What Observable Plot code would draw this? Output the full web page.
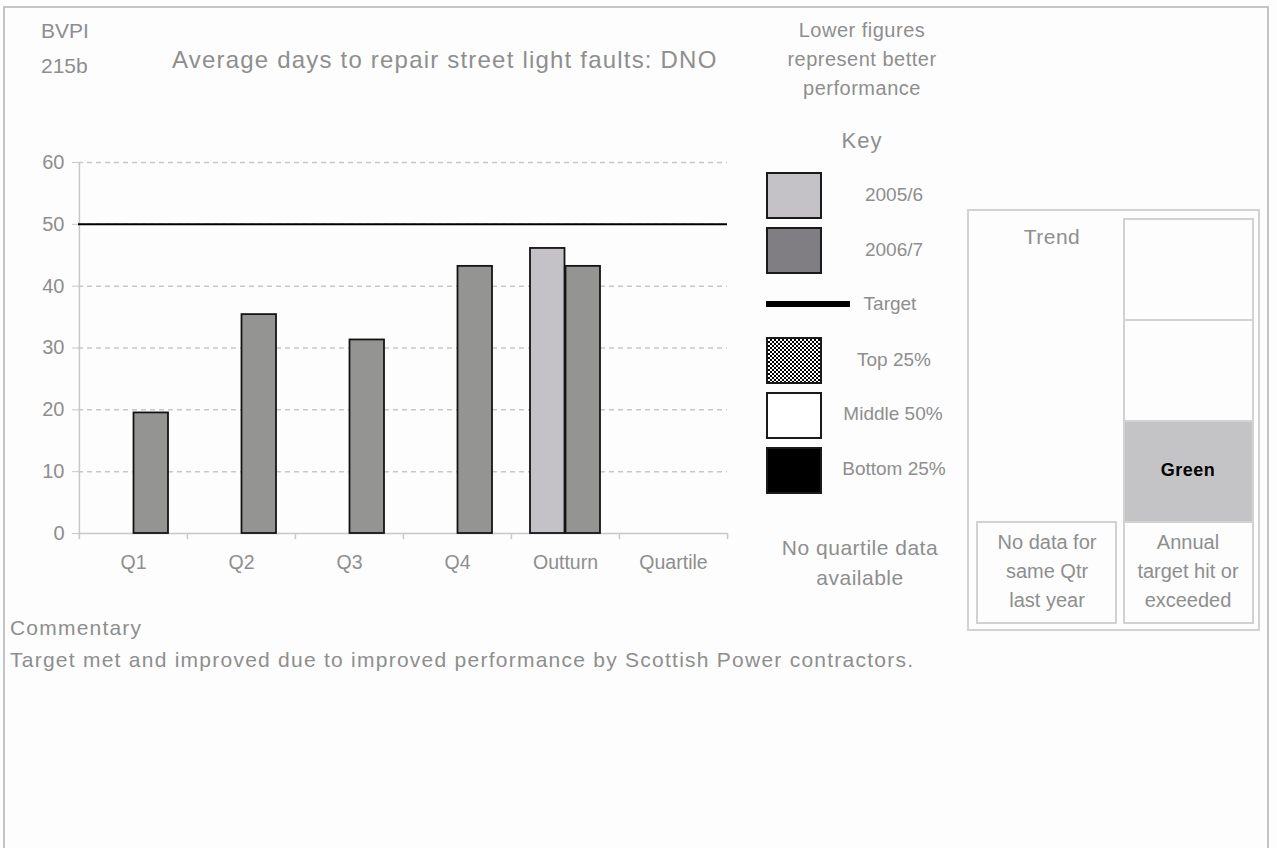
<!DOCTYPE html>
<html>
<head>
<meta charset="utf-8">
<script src="https://cdn.jsdelivr.net/npm/d3@7"></script>
<script src="https://cdn.jsdelivr.net/npm/@observablehq/plot@0.6"></script>
<style>
  html, body { margin: 0; padding: 0; background: #ffffff; }
  #page { position: relative; width: 1277px; height: 848px; overflow: hidden;
          font-family: "Liberation Sans", Arial, sans-serif; color: #8e8e8e; background: #fdfdfd; }
  .abs { position: absolute; white-space: nowrap; }
  .c { text-align: center; }
  .frame { position: absolute; left: 3px; top: 6px; width: 1266px; height: 900px;
           border: 2px solid #c4c4c4; box-sizing: border-box; }
  .sw { position: absolute; box-sizing: border-box; border: 2px solid #1a1a1a; }
  .box { position: absolute; box-sizing: border-box; border: 2px solid #d2d2d2; }
  #chart { position: absolute; left: 0; top: 0; }
</style>
</head>
<body>
<div id="page">
  <div class="frame"></div>
  <div id="chart"></div>
</div>
<script>
// ---------- data ----------
const categories = ["Q1", "Q2", "Q3", "Q4", "Outturn", "Quartile"];
const seriesNames = ["2005/6", "2006/7"];
const values2005 = [null, null, null, null, 46.1, null];
const values2006 = [19.5, 35.4, 31.3, 43.2, 43.2, null];
const targetValue = 50;
const yTicks = [0, 10, 20, 30, 40, 50, 60];
const keyLabels = ["2005/6", "2006/7", "Target", "Top 25%", "Middle 50%", "Bottom 25%"];
const titleCode = ["BVPI", "215b"];
const titleText = "Average days to repair street light faults: DNO";
const noteLines = ["Lower figures", "represent better", "performance"];
const quartileNote = ["No quartile data", "available"];
const trendTitle = "Trend";
const trendStatus = "Green";
const trendNoteLeft = ["No data for", "same Qtr", "last year"];
const trendNoteRight = ["Annual", "target hit or", "exceeded"];
const commentaryTitle = "Commentary";
const commentaryText = "Target met and improved due to improved performance by Scottish Power contractors.";

// ---------- chart ----------
const W = 740, H = 590, mL = 78, mR = 13, mT = 162, mB = 57;
const bw = (W - mL - mR) / categories.length;
const d2005 = categories.map((c, i) => ({cat: c, value: values2005[i]})).filter(d => d.value != null);
const d2006 = categories.map((c, i) => ({cat: c, value: values2006[i]})).filter(d => d.value != null);
const grid = "#c8c8c8", txt = "#8e8e8e";

const chart = Plot.plot({
  width: W, height: H, marginLeft: mL, marginRight: mR, marginTop: mT, marginBottom: mB,
  style: {background: "transparent", fontFamily: "'Liberation Sans', Arial, sans-serif", overflow: "visible"},
  x: {type: "band", domain: categories, padding: 0},
  y: {domain: [0, 60]},
  marks: [
    Plot.ruleY(yTicks.filter(t => t > 0), {stroke: grid, strokeWidth: 1.5, strokeDasharray: "5,4"}),
    Plot.ruleY([0], {stroke: grid, strokeWidth: 1.5}),
    Plot.ruleX([categories[0]], {x: d => d, dx: -bw / 2, stroke: grid, strokeWidth: 1.5}),
    Plot.ruleX(categories, {x: d => d, dx: -bw / 2, y1: 0, y2: 0, insetBottom: -6, stroke: grid, strokeWidth: 1.5}),
    Plot.ruleX([categories[categories.length - 1]], {x: d => d, dx: bw / 2, y1: 0, y2: 0, insetBottom: -6, stroke: grid, strokeWidth: 1.5}),
    Plot.barY(d2005, {x: "cat", y: "value", fill: "#c4c2c6", stroke: "#141414", strokeWidth: 1.8, insetLeft: 19, insetRight: 54.5}),
    Plot.barY(d2006, {x: "cat", y: "value", fill: "#949592", stroke: "#141414", strokeWidth: 1.8, insetLeft: 54.5, insetRight: 19}),
    Plot.ruleY([targetValue], {stroke: "#000", strokeWidth: 2}),
    Plot.axisY({ticks: yTicks, tickSize: 6, tickPadding: 8, stroke: grid, fill: txt, fontSize: 20, label: null}),
    Plot.axisX({tickSize: 0, tickPadding: 22, fill: txt, fontSize: 19.5, label: null})
  ]
});
document.getElementById("chart").appendChild(chart);

// ---------- html overlays ----------
const page = document.getElementById("page");
function text(str, {x, y, size = 20, center = false, w = 300, ls = 0, color = txt, weight = "normal"}) {
  const d = document.createElement("div");
  d.className = "abs" + (center ? " c" : "");
  d.textContent = str;
  d.style.fontSize = size + "px";
  d.style.lineHeight = "24px";
  d.style.top = (y - 12) + "px";
  d.style.letterSpacing = ls + "px";
  d.style.color = color;
  d.style.fontWeight = weight;
  if (center) { d.style.left = (x - w / 2) + "px"; d.style.width = w + "px"; }
  else d.style.left = x + "px";
  page.appendChild(d);
  return d;
}
function rect(cls, x, y, w, h, bg) {
  const d = document.createElement("div");
  d.className = cls;
  d.style.left = x + "px"; d.style.top = y + "px";
  d.style.width = w + "px"; d.style.height = h + "px";
  if (bg) d.style.background = bg;
  page.appendChild(d);
  return d;
}

// title block
text(titleCode[0], {x: 41, y: 31, size: 21});
text(titleCode[1], {x: 41, y: 66, size: 21});
text(titleText, {x: 172, y: 60, size: 24, ls: 1.2});

// note
noteLines.forEach((s, i) => text(s, {x: 862, y: 30 + i * 29, size: 20, center: true, ls: 0.5}));
text("Key", {x: 862, y: 141, size: 22, center: true, ls: 1});

// key swatches
rect("sw", 766, 172, 56, 47, "#c4c2c6");
rect("sw", 766, 227, 56, 47, "#807e82");
rect("abs", 766, 301, 84, 6, "#000");
const chk = rect("sw", 766, 337, 56, 47, "#fff");
chk.style.background = "repeating-conic-gradient(#000 0 25%, #fff 0 50%) 0 0/4px 4px";
rect("sw", 766, 392, 56, 47, "#fff");
rect("sw", 766, 447, 56, 47, "#000");
const keyY = [195, 250, 304, 360, 414, 469];
const keyX = [894, 894, 890, 894, 893, 894];
keyLabels.forEach((s, i) => text(s, {x: keyX[i], y: keyY[i], size: 19, center: true, w: 140}));

quartileNote.forEach((s, i) => text(s, {x: 860, y: 548 + i * 30, size: 21, center: true, ls: 0.5}));

// trend panel
rect("box", 967, 209, 293, 422);
text(trendTitle, {x: 1052, y: 237, size: 21, center: true, ls: 0.5});
rect("box", 1123, 218, 131, 103);
rect("box", 1123, 319, 131, 103);
rect("box", 1123, 420, 131, 103, "#c4c3c6");
rect("box", 1123, 521, 131, 103);
rect("box", 976, 521, 141, 103);
text(trendStatus, {x: 1188, y: 470, size: 18, center: true, color: "#000", weight: "bold", ls: 0.5});
trendNoteLeft.forEach((s, i) => text(s, {x: 1047, y: 542 + i * 29, size: 20, center: true}));
trendNoteRight.forEach((s, i) => text(s, {x: 1188, y: 542 + i * 29, size: 20, center: true}));

// commentary
text(commentaryTitle, {x: 10, y: 628, size: 21, ls: 1.2});
text(commentaryText, {x: 10, y: 660, size: 21, ls: 1.25});
</script>
</body>
</html>
